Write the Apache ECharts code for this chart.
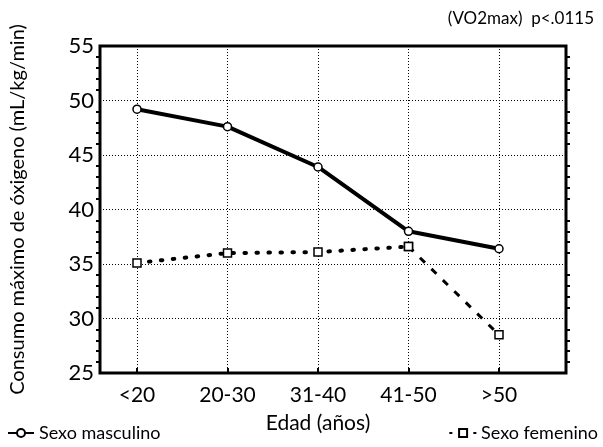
<!DOCTYPE html>
<html><head><meta charset="utf-8">
<script src="https://cdn.jsdelivr.net/npm/echarts@6/dist/echarts.min.js"></script>
<style>html,body{margin:0;padding:0;background:#fff}#c{width:603px;height:447px}</style>
</head><body><div id="c"></div>
<script>
const categories = ['<20', '20-30', '31-40', '41-50', '>50'];
const masculino = [49.2, 47.6, 43.9, 38.0, 36.4];
const femeninoDotted = [35.1, 36.0, 36.1, 36.6, null];
const femeninoDashed = [null, null, null, 36.6, 28.5];
const yMin = 25, yMax = 55, yStep = 5;
const FONT = 'Lato';

const chart = echarts.init(document.getElementById('c'), null, {renderer: 'canvas'});
chart.setOption({
  animation: false,
  textStyle: {fontFamily: FONT, color: '#000'},
  title: {
    text: '(VO2max)  p<.0115', right: 4, top: 5,
    textStyle: {fontFamily: FONT, fontSize: 17, fontWeight: 'normal', color: '#000'}
  },
  grid: [
    {left: 137, top: 46, width: 362, height: 327, show: false},
    {left: 92, top: 46, width: 474, height: 327, show: true, borderColor: '#000', borderWidth: 3, backgroundColor: 'transparent', z: 5}
  ],
  xAxis: [
    {
      type: 'category', gridIndex: 0, data: categories, boundaryGap: false,
      axisLine: {show: false},
      axisTick: {show: true, inside: true, length: 5, lineStyle: {color: '#000', width: 2}},
      axisLabel: {fontSize: 21, color: '#000', fontFamily: FONT, margin: 12},
      splitLine: {show: true, lineStyle: {color: '#000', type: [1, 2], width: 1}},
      name: 'Edad (años)', nameLocation: 'middle', nameGap: 40,
      nameTextStyle: {fontSize: 21, color: '#000', fontFamily: FONT}
    },
    {type: 'value', gridIndex: 1, show: false, min: 0, max: 1}
  ],
  yAxis: [
    {type: 'value', gridIndex: 0, show: false, min: yMin, max: yMax, interval: yStep},
    {
      type: 'value', gridIndex: 1, min: yMin, max: yMax, interval: yStep, position: 'left',
      axisLine: {show: false},
      axisTick: {show: false},
      minorTick: {show: true, splitNumber: 5, length: 4, lineStyle: {color: '#000', width: 2}},
      axisLabel: {fontSize: 22, color: '#000', fontFamily: FONT, margin: 6},
      splitLine: {show: true, lineStyle: {color: '#000', type: [1, 2], width: 1}},
      name: 'Consumo máximo de óxigeno (mL/kg/min)', nameLocation: 'middle', nameGap: 72, nameRotate: 90,
      nameTextStyle: {fontSize: 20, color: '#000', fontFamily: FONT}
    },
    {
      type: 'value', gridIndex: 1, min: yMin, max: yMax, interval: yStep, position: 'right',
      axisLine: {show: false},
      axisTick: {show: false},
      minorTick: {show: true, splitNumber: 5, length: 4, lineStyle: {color: '#000', width: 2}},
      axisLabel: {show: false},
      splitLine: {show: false}
    }
  ],
  legend: [
    {
      data: ['Sexo masculino'], left: 2, bottom: 0, itemWidth: 26, itemHeight: 10, itemGap: 5,
      textStyle: {fontSize: 18, color: '#000', fontFamily: FONT}
    },
    {
      data: ['Sexo femenino'], right: 0, bottom: 0, itemWidth: 26, itemHeight: 10, itemGap: 5,
      textStyle: {fontSize: 18, color: '#000', fontFamily: FONT}
    }
  ],
  series: [
    {
      name: 'Sexo masculino', type: 'line', xAxisIndex: 0, yAxisIndex: 0, data: masculino,
      symbol: 'circle', symbolSize: 8, showSymbol: true, z: 10,
      lineStyle: {color: '#000', width: 4},
      itemStyle: {color: '#fff', borderColor: '#000', borderWidth: 1.5}
    },
    {
      name: 'Sexo femenino', type: 'line', xAxisIndex: 0, yAxisIndex: 0, data: femeninoDotted,
      symbol: 'rect', symbolSize: 8, z: 10,
      lineStyle: {color: '#000', width: 4, type: [1.5, 10.5], cap: 'round'},
      itemStyle: {color: '#fff', borderColor: '#000', borderWidth: 1.5}
    },
    {
      name: 'Sexo femenino (41-50 a >50)', type: 'line', xAxisIndex: 0, yAxisIndex: 0, data: femeninoDashed,
      symbol: 'rect', symbolSize: 8, z: 10,
      lineStyle: {color: '#000', width: 3, type: [7, 9]},
      itemStyle: {color: '#fff', borderColor: '#000', borderWidth: 1.5}
    }
  ]
});
</script></body></html>
